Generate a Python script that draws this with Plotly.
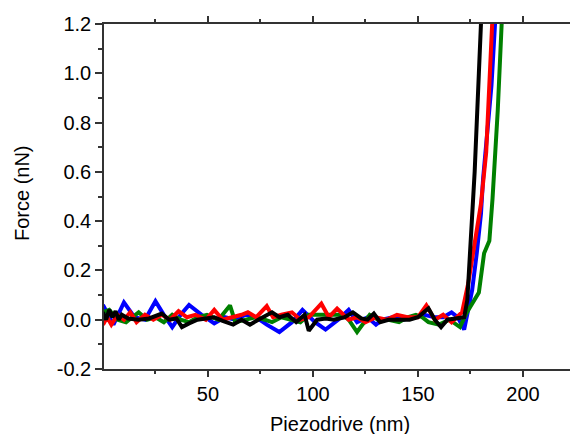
import plotly.graph_objects as go

# Blue curve
blue_x = [0, 2.5, 5, 10, 15, 20, 25, 29, 33, 37, 41, 47, 53, 58, 63, 68, 73, 78, 84, 90, 95, 101, 106, 112, 117, 121, 126, 130, 133, 138, 143, 148, 153, 158, 162, 166, 169, 172, 175.8, 178, 180, 181, 183, 185, 186.7, 189]
blue_y = [0.06, 0.02, -0.02, 0.07, 0.01, 0.0, 0.075, 0.02, -0.03, 0.02, 0.06, 0.02, -0.015, 0.01, 0.0, 0.02, 0.01, -0.02, -0.05, -0.01, 0.04, -0.01, -0.04, 0.0, 0.04, -0.01, 0.01, -0.02, 0.0, 0.01, 0.0, 0.01, 0.02, 0.01, 0.01, 0.03, 0.01, -0.04, 0.12, 0.27, 0.43, 0.57, 0.75, 0.95, 1.2, 1.6]

# Red curve
red_x = [0, 2, 4, 7, 10, 13, 16, 20, 24, 28, 32, 36, 40, 44, 49, 53, 57, 62, 66, 69, 73, 78, 81, 85, 90, 94, 98, 104, 107.6, 111.5, 117, 121, 125, 130, 135, 140, 145, 150, 154, 158, 162, 166, 171, 174, 177, 180, 182.5, 185, 187.5]
red_y = [-0.02, 0.01, -0.02, 0.02, 0.0, 0.03, -0.01, 0.02, 0.0, 0.02, 0.0, 0.035, 0.01, 0.02, 0.0, 0.04, 0.0, 0.01, 0.02, 0.03, 0.01, 0.055, 0.01, 0.02, 0.03, 0.0, 0.01, 0.065, 0.01, 0.045, 0.0, 0.01, -0.01, 0.01, 0.0, 0.02, 0.01, 0.01, 0.058, 0.0, 0.02, -0.01, 0.03, 0.15, 0.32, 0.47, 0.68, 1.12, 1.6]

# Green curve
green_x = [0, 3, 7, 11, 14, 17, 21, 25, 29, 33, 37, 41, 45, 49.5, 55, 60.5, 63, 68, 73, 77, 80.5, 85, 90, 94, 98, 103, 108, 114, 117, 121, 127, 131, 136, 141, 145, 149, 152, 155, 160, 165, 170, 173, 179, 181.5, 184, 185.5, 188, 190, 192.5]
green_y = [0.03, 0.04, 0.0, -0.01, 0.01, 0.03, 0.0, 0.01, -0.01, 0.02, 0.0, -0.01, 0.01, 0.02, 0.0, 0.058, -0.01, 0.0, 0.01, 0.0, -0.01, 0.01, 0.0, -0.01, 0.02, 0.02, 0.02, 0.02, 0.0, -0.05, 0.02, 0.0, 0.0, -0.01, 0.01, 0.02, 0.01, -0.01, -0.02, 0.0, -0.03, 0.025, 0.11, 0.27, 0.32, 0.49, 0.85, 1.2, 1.7]

# Black curve
black_x = [0, 1.5, 3, 4.5, 6, 7.5, 9, 12, 17, 22, 28, 31.5, 35, 37.6, 41, 45, 49, 53, 57, 62, 66, 70, 74, 78, 80.5, 84, 88, 92, 96, 98, 102, 106, 110, 115, 119, 123, 126, 129, 132, 136, 141, 146, 150, 155, 158, 161, 164, 168, 172, 173.5, 175, 177, 179, 181]
black_y = [0.03, 0.0, 0.04, 0.01, 0.035, 0.0, 0.02, 0.005, 0.0, 0.005, 0.025, 0.0, 0.005, -0.03, -0.015, 0.0, 0.005, 0.01, -0.005, -0.02, 0.0, -0.02, 0.0, 0.02, 0.03, 0.01, 0.02, -0.01, 0.02, -0.045, 0.0, 0.005, 0.0, 0.01, 0.03, 0.005, 0.0, 0.025, -0.01, 0.0, 0.0, 0.0, 0.01, 0.046, 0.0, -0.03, 0.0, 0.005, 0.01, 0.08, 0.3, 0.6, 1.0, 1.4]

x_tick_vals = [50, 100, 150, 200]
x_tick_text = ["50", "100", "150", "200"]
y_tick_vals = [-0.2, 0.0, 0.2, 0.4, 0.6, 0.8, 1.0, 1.2]
y_tick_text = ["-0.2", "0.0", "0.2", "0.4", "0.6", "0.8", "1.0", "1.2"]

x_title = "Piezodrive (nm)"
y_title = "Force (nN)"

series = [
    (blue_x, blue_y, "#0000FF"),
    (green_x, green_y, "#008000"),
    (red_x, red_y, "#FF0000"),
    (black_x, black_y, "#000000"),
]

fig = go.Figure()
for xs, ys, c in series:
    fig.add_trace(go.Scatter(x=xs, y=ys, mode="lines",
                             line=dict(color=c, width=4), showlegend=False))

font_family = "Liberation Sans, Arial, sans-serif"
fig.update_layout(
    width=570, height=434,
    margin=dict(l=104, r=0, t=24, b=65),
    paper_bgcolor="white", plot_bgcolor="white",
    font=dict(family=font_family, size=20, color="black"),
)
fig.update_xaxes(
    range=[0.5, 222.4], automargin=False,
    tickmode="array", tickvals=x_tick_vals, ticktext=x_tick_text,
    ticks="outside", ticklen=6, tickwidth=1.5, tickcolor="#333",
    minor=dict(tickmode="linear", tick0=0, dtick=25, ticks="outside", ticklen=3, tickwidth=1.5, tickcolor="#333", showgrid=False),
    showline=True, linecolor="#333", linewidth=1.5, mirror="ticks",
    showgrid=False, zeroline=False,
)
fig.update_yaxes(
    range=[-0.2, 1.2], automargin=False,
    tickmode="array", tickvals=y_tick_vals, ticktext=y_tick_text,
    ticks="outside", ticklen=7, tickwidth=1.5, tickcolor="#333",
    minor=dict(tickmode="linear", tick0=0, dtick=0.1, ticks="outside", ticklen=4, tickwidth=1.5, tickcolor="#333", showgrid=False),
    showline=True, linecolor="#333", linewidth=1.5, mirror=False,
    showgrid=False, zeroline=False,
)
fig.add_annotation(text=x_title, xref="paper", yref="paper", x=0.5075, y=-0.16,
                   xanchor="center", yanchor="middle", showarrow=False,
                   font=dict(size=20))
fig.add_annotation(text=y_title, xref="paper", yref="paper", x=-0.176, y=0.51,
                   xanchor="center", yanchor="middle", textangle=-90, showarrow=False,
                   font=dict(size=20))
fig.write_html("out.html", config={"displayModeBar": False},
               post_script="document.body.style.margin='0';document.body.style.overflow='hidden';")
